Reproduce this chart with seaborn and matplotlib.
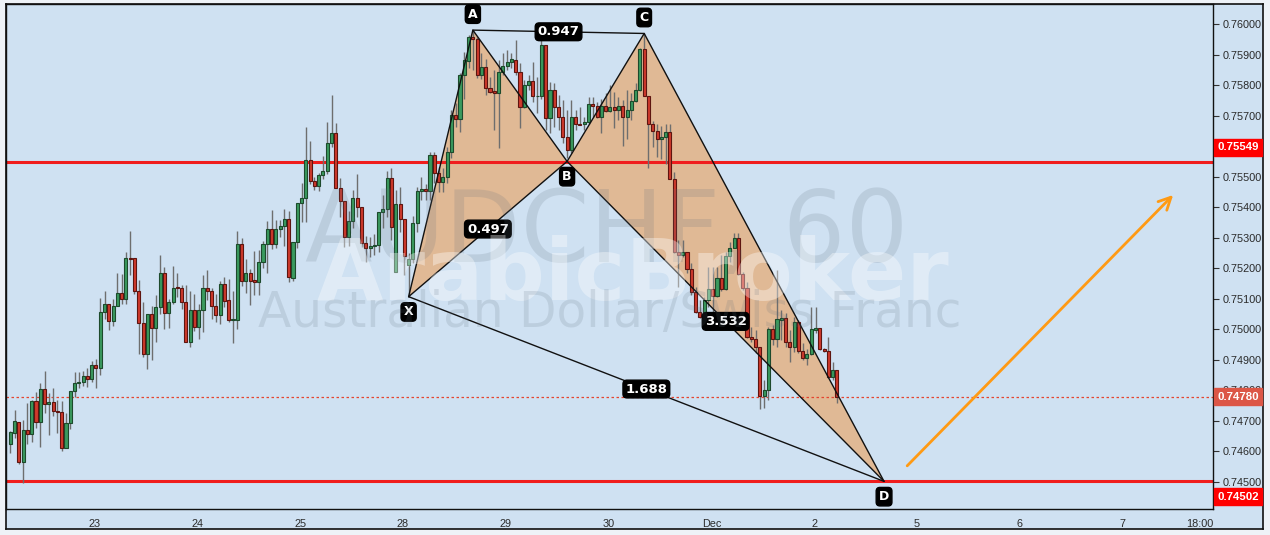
import matplotlib

matplotlib.use("Agg")

import matplotlib.pyplot as plt
import numpy as np
import seaborn as sns

# hourly AUDCHF candles, prices in 1e-5 units
OPEN = [
    74623, 74662, 74698, 74567, 74669, 74656, 74765, 74695, 74803, 74754,
    74761, 74734, 74728, 74612, 74692, 74797, 74823, 74829, 74847, 74836,
    74882, 74875, 75056, 75082, 75026, 75078, 75118, 75098, 75232, 75232,
    75124, 75022, 74918, 75049, 75005, 75072, 75183, 75055, 75088, 75137,
    75137, 75091, 74959, 75062, 75008, 75062, 75137, 75127, 75077, 75048,
    75148, 75095, 75032, 75032, 75281, 75159, 75186, 75160, 75154, 75219,
    75281, 75327, 75281, 75327, 75337, 75360, 75169, 75285, 75413, 75429,
    75555, 75485, 75468, 75504, 75519, 75609, 75642, 75462, 75419, 75304,
    75355, 75429, 75400, 75284, 75265, 75272, 75276, 75383, 75394, 75495,
    75187, 75409, 75363, 75212, 75229, 75347, 75453, 75460, 75454, 75571,
    75511, 75483, 75500, 75582, 75702, 75688, 75833, 75880, 75958, 75950,
    75833, 75860, 75792, 75781, 75773, 75844, 75862, 75876, 75882, 75844,
    75727, 75800, 75814, 75764, 75764, 75931, 75691, 75784, 75727, 75696,
    75629, 75587, 75694, 75672, 75671, 75679, 75738, 75732, 75696, 75731,
    75716, 75727, 75718, 75731, 75694, 75718, 75748, 75784, 75917, 75765,
    75671, 75649, 75622, 75629, 75645, 75494, 75254, 75242, 75254, 75196,
    75123, 75058, 75039, 75096, 75131, 75109, 75167, 75131, 75240, 75268,
    75298, 75180, 75134, 74974, 74967, 74941, 74781, 74801, 75000, 74967,
    75030, 75036, 74959, 74941, 75025, 74930, 74905, 74919, 74998, 75003,
    74935, 74930, 74843, 74866,
]
HIGH = [
    74668, 74736, 74698, 74703, 74760, 74768, 74795, 74825, 74863, 74790,
    74808, 74768, 74765, 74727, 74797, 74860, 74860, 74863, 74874, 74897,
    74903, 75102, 75127, 75082, 75100, 75184, 75181, 75253, 75323, 75232,
    75161, 75088, 75049, 75076, 75112, 75243, 75205, 75099, 75207, 75184,
    75145, 75145, 75125, 75115, 75083, 75178, 75194, 75134, 75115, 75158,
    75171, 75165, 75125, 75322, 75299, 75230, 75197, 75256, 75260, 75289,
    75355, 75391, 75358, 75358, 75394, 75387, 75285, 75413, 75479, 75663,
    75617, 75500, 75513, 75568, 75679, 75768, 75676, 75496, 75419, 75389,
    75456, 75509, 75400, 75307, 75304, 75312, 75383, 75440, 75520, 75527,
    75456, 75467, 75363, 75249, 75371, 75467, 75498, 75476, 75582, 75582,
    75533, 75527, 75598, 75718, 75740, 75838, 75909, 75964, 75980, 75958,
    75904, 75887, 75827, 75849, 75882, 75904, 75915, 75904, 75947, 75871,
    75816, 75833, 75876, 75827, 75964, 75931, 75811, 75806, 75767, 75751,
    75718, 75751, 75718, 75729, 75696, 75760, 75760, 75745, 75753, 75773,
    75800, 75778, 75762, 75751, 75784, 75773, 75806, 75920, 75969, 75765,
    75682, 75674, 75666, 75674, 75674, 75516, 75292, 75292, 75254, 75216,
    75139, 75096, 75107, 75205, 75205, 75205, 75243, 75254, 75287, 75314,
    75314, 75189, 75156, 75008, 74998, 74943, 74834, 75008, 75014, 75194,
    75063, 75052, 74998, 75041, 75030, 74954, 74937, 75074, 75074, 75003,
    74938, 74976, 74894, 74866,
]
LOW = [
    74594, 74643, 74558, 74498, 74626, 74632, 74676, 74615, 74727, 74653,
    74717, 74659, 74603, 74612, 74674, 74779, 74807, 74815, 74812, 74827,
    74807, 74849, 75033, 74999, 75012, 75078, 75082, 75082, 75177, 75116,
    74920, 74908, 74871, 74899, 74959, 75049, 75002, 75005, 75082, 75107,
    75068, 74959, 74943, 74995, 74969, 74990, 75096, 75035, 75025, 75017,
    75074, 75025, 74956, 75002, 75143, 75120, 75081, 75112, 75114, 75200,
    75185, 75263, 75265, 75301, 75274, 75156, 75159, 75267, 75353, 75353,
    75475, 75456, 75454, 75492, 75508, 75598, 75462, 75369, 75271, 75274,
    75333, 75369, 75271, 75219, 75238, 75243, 75252, 75333, 75369, 75293,
    75187, 75320, 75178, 75107, 75216, 75318, 75424, 75424, 75423, 75478,
    75451, 75451, 75478, 75560, 75664, 75647, 75756, 75855, 75849, 75822,
    75819, 75767, 75773, 75653, 75593, 75833, 75849, 75855, 75833, 75658,
    75724, 75784, 75745, 75707, 75756, 75653, 75642, 75664, 75653, 75609,
    75560, 75576, 75653, 75669, 75653, 75674, 75696, 75691, 75644, 75713,
    75713, 75658, 75685, 75600, 75622, 75685, 75745, 75781, 75765, 75527,
    75598, 75565, 75557, 75541, 75494, 75251, 75139, 75238, 75183, 75112,
    75052, 75036, 75008, 75074, 75036, 75107, 75126, 75129, 75221, 75265,
    75178, 75129, 74970, 74959, 74921, 74738, 74741, 74768, 74948, 74943,
    74965, 74943, 74894, 74927, 74923, 74901, 74883, 74916, 74987, 74932,
    74927, 74839, 74834, 74759,
]
CLOSE = [
    74664, 74700, 74567, 74670, 74656, 74765, 74695, 74803, 74754, 74761,
    74734, 74728, 74612, 74692, 74797, 74823, 74829, 74847, 74836, 74882,
    74875, 75056, 75082, 75026, 75078, 75118, 75098, 75232, 75230, 75124,
    75022, 74918, 75049, 75005, 75072, 75183, 75055, 75088, 75137, 75136,
    75090, 74959, 75062, 75008, 75062, 75137, 75126, 75077, 75048, 75148,
    75094, 75031, 75032, 75281, 75159, 75186, 75159, 75154, 75219, 75281,
    75327, 75281, 75327, 75337, 75360, 75170, 75285, 75413, 75429, 75555,
    75485, 75468, 75504, 75519, 75609, 75642, 75462, 75419, 75304, 75355,
    75429, 75400, 75284, 75265, 75272, 75276, 75383, 75394, 75495, 75334,
    75409, 75362, 75240, 75229, 75347, 75453, 75460, 75454, 75571, 75511,
    75483, 75500, 75582, 75702, 75688, 75833, 75882, 75958, 75950, 75833,
    75860, 75792, 75778, 75773, 75844, 75862, 75876, 75884, 75844, 75727,
    75800, 75814, 75764, 75764, 75931, 75691, 75784, 75727, 75696, 75629,
    75587, 75694, 75671, 75670, 75679, 75738, 75732, 75696, 75731, 75716,
    75727, 75718, 75731, 75694, 75718, 75748, 75784, 75917, 75765, 75671,
    75649, 75622, 75631, 75645, 75494, 75254, 75242, 75254, 75196, 75123,
    75058, 75039, 75096, 75131, 75109, 75167, 75131, 75240, 75268, 75298,
    75180, 75134, 74974, 74967, 74941, 74781, 74801, 75000, 74967, 75034,
    75036, 74959, 74941, 75025, 74930, 74905, 74919, 75000, 75003, 74935,
    74930, 74843, 74866, 74780,
]

# harmonic pattern points (candle index, price)
PATTERN_NAMES = ["X", "A", "B", "C", "D"]
PATTERN_POS = [93, 108, 130, 148, 204]
PATTERN_PRICE = [0.75107, 0.75980, 0.75550, 0.75969, 0.74502]
RATIO_TEXT = ["0.497", "0.947", "3.532", "1.688"]
RATIO_ENDS = [("X", "B"), ("A", "C"), ("B", "D"), ("X", "D")]

LEVELS = [0.75549, 0.74502]
LAST_PRICE = 0.74780
ARROW_FROM = (209.4, 0.74553)
ARROW_TO = (271.5, 0.75440)

Y_TICKS = [0.745, 0.746, 0.747, 0.748, 0.749, 0.750, 0.751, 0.752,
           0.753, 0.754, 0.755, 0.756, 0.757, 0.758, 0.759, 0.760]
DAY_LABELS = ["23", "24", "25", "28", "29", "30", "Dec", "2", "5", "6", "7"]
FIRST_DAY_POS = 19.7

BG = "#cfe1f2"
GREEN, GREEN_EDGE = "#3a9a5e", "#1d4a2c"
RED, RED_EDGE = "#cf3a2c", "#5e1510"
FILL = "#e0b995"

sns.set_style("white")
plt.rcParams["font.family"] = ["DejaVu Sans"]

W, H = 1270, 535
fig = plt.figure(figsize=(W / 100, H / 100), dpi=100)
fig.patch.set_facecolor("#eef2f7")

# outer frame (holds the time axis strip too)
frame = fig.add_axes([6 / W, 1 - 529 / H, (1263 - 6) / W, (529 - 4) / H])
frame.set_facecolor(BG)
frame.set_xticks([])
frame.set_yticks([])
for s in frame.spines.values():
    s.set_color("#111111")
    s.set_linewidth(1.2)

ax = fig.add_axes([6 / W, 1 - 509 / H, (1213 - 6) / W, (509 - 4) / H])
ax.set_facecolor("none")
for s in ax.spines.values():
    s.set_color("#111111")
    s.set_linewidth(1.0)

o = np.array(OPEN) / 1e5
h = np.array(HIGH) / 1e5
l = np.array(LOW) / 1e5
c = np.array(CLOSE) / 1e5
pos = np.arange(len(o))
up = c >= o
lo = np.minimum(o, c)
body = np.maximum(np.abs(c - o), 0.000012)

# pattern triangles
pts = dict(zip(PATTERN_NAMES, zip(PATTERN_POS, PATTERN_PRICE)))
for tri in [("X", "A", "B"), ("B", "C", "D")]:
    ax.fill([pts[k][0] for k in tri], [pts[k][1] for k in tri],
            color=FILL, lw=0, zorder=1)

# horizontal levels
for lv in LEVELS:
    ax.axhline(lv, color="#f01d1d", lw=2.2, zorder=2)
ax.axhline(LAST_PRICE, color="#e5452f", lw=0.9, ls=(0, (2, 2)), zorder=2)

# candles
ax.vlines(pos, l, h, color="#6e6e6e", lw=1, zorder=3)
ax.bar(pos[up], body[up], bottom=lo[up], width=0.72, color=GREEN,
       edgecolor=GREEN_EDGE, lw=0.8, zorder=4)
ax.bar(pos[~up], body[~up], bottom=lo[~up], width=0.72, color=RED,
       edgecolor=RED_EDGE, lw=0.8, zorder=4)

# watermarks
fig.text(607 / W, 1 - 262 / H, "AUDCHF, 60", ha="center", va="baseline",
         fontsize=71, color="#5d6b7a", alpha=0.17, zorder=6)
fig.text(633 / W, 1 - 300 / H, "ArabicBroker", ha="center", va="baseline",
         fontsize=62, fontweight="bold", color="white", alpha=0.36, zorder=6)
fig.text(610 / W, 1 - 327 / H, "Australian Dollar/Swiss Franc", ha="center",
         va="baseline", fontsize=35, color="#5d6b7a", alpha=0.16, zorder=6)

# pattern legs
sns.lineplot(x=PATTERN_POS, y=PATTERN_PRICE, sort=False, estimator=None,
             color="#111111", lw=1, ax=ax, zorder=7)
for a, b in RATIO_ENDS:
    ax.plot([pts[a][0], pts[b][0]], [pts[a][1], pts[b][1]],
            color="#111111", lw=1, zorder=7)

box = dict(boxstyle="round,pad=0.18,rounding_size=0.3", fc="black", ec="black")
for txt, (a, b) in zip(RATIO_TEXT, RATIO_ENDS):
    mx = (pts[a][0] + pts[b][0]) / 2
    my = (pts[a][1] + pts[b][1]) / 2
    ax.text(mx, my, txt, ha="center", va="center", color="white",
            fontsize=9.5, fontweight="bold", bbox=box, zorder=9)

for name in PATTERN_NAMES:
    px, py = pts[name]
    dy = 11.5 if name in ("A", "C") else -11
    ax.annotate(name, (px, py), xytext=(0, dy), textcoords="offset points",
                ha="center", va="center", color="white", fontsize=9,
                fontweight="bold", annotation_clip=False,
                bbox=dict(boxstyle="round,pad=0.22,rounding_size=0.3",
                          fc="black", ec="black"), zorder=9)

ax.annotate("", xy=ARROW_TO, xytext=ARROW_FROM,
            arrowprops=dict(arrowstyle="->", color="#ff9a14", lw=2,
                            mutation_scale=22, shrinkA=0, shrinkB=0),
            zorder=8)

# axes
ax.set_xlim(-1.0, 280.8)
ax.set_ylim(0.744116, 0.760655)
ax.set_xlabel("")
ax.set_ylabel("")
ax.yaxis.tick_right()
ax.set_yticks(Y_TICKS)
ax.set_yticklabels([f"{v:.5f}" for v in Y_TICKS])
xt = [FIRST_DAY_POS + 24 * k for k in range(len(DAY_LABELS))]
xt.append(xt[-1] + 18)
ax.set_xticks(xt)
ax.set_xticklabels(DAY_LABELS + ["18:00"])
ax.tick_params(axis="both", which="both", direction="out", length=4,
               width=0.8, color="#333333", labelsize=7.8,
               labelcolor="#2a2a2a", pad=3)
for t in ax.get_xticklabels() + ax.get_yticklabels():
    t.set_fontfamily(["Liberation Sans", "DejaVu Sans"])

# price tags on the scale (the two level tags are nudged off their line,
# as on the original scale)
for val, col, shift in [(LEVELS[0], "#ff0000", 10.5),
                        (LEVELS[1], "#ff0000", -11),
                        (LAST_PRICE, "#dc5646", 0)]:
    ax.annotate(f"{val:.5f}", (1.0, val), xycoords=ax.get_yaxis_transform(),
                xytext=(3, shift), textcoords="offset points",
                ha="left", va="center", color="white", fontsize=8.2,
                fontweight="bold", fontfamily=["Liberation Sans", "DejaVu Sans"],
                bbox=dict(boxstyle="square,pad=0.3", fc=col, ec=col),
                annotation_clip=False, zorder=10)

fig.savefig("out.png", dpi=100, facecolor=fig.get_facecolor())
